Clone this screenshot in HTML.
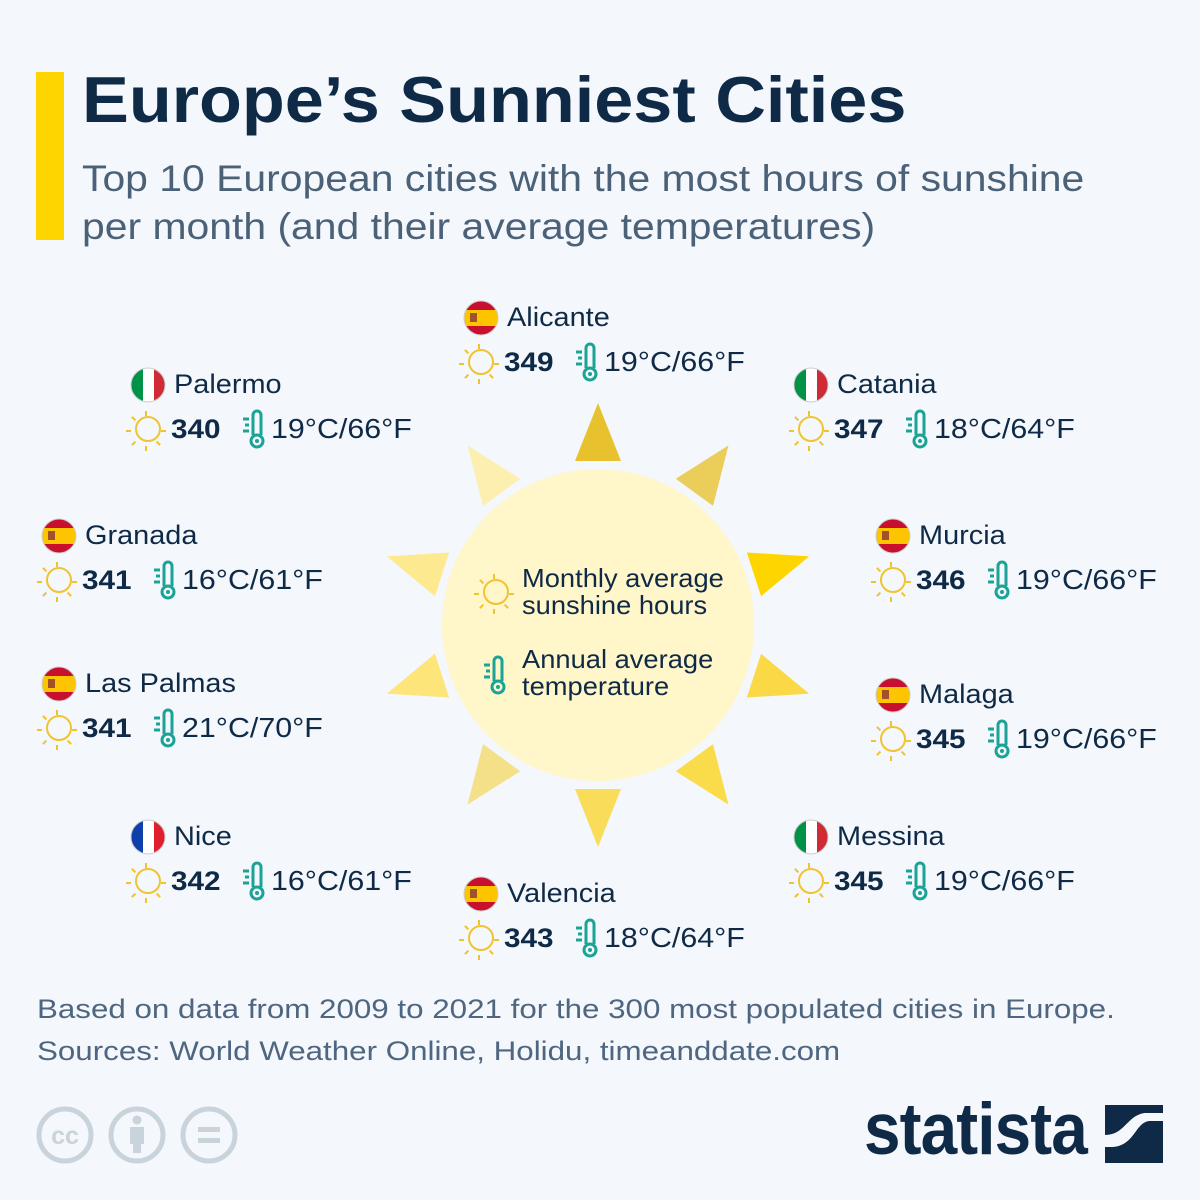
<!DOCTYPE html>
<html><head><meta charset="utf-8"><style>
body{margin:0;background:#f4f7fb;}
#root{position:relative;width:1200px;height:1200px;overflow:hidden;background:#f4f7fb;font-family:"Liberation Sans","DejaVu Sans",sans-serif;color:#0f2a47;}
.abs{position:absolute;white-space:nowrap;transform-origin:0 0;}
.name{font-size:27px;color:#0f2a47;transform:scaleX(1.07);}
.num{font-size:27px;font-weight:bold;color:#0f2a47;transform:scaleX(1.1);}
.temp{font-size:28px;color:#0f2a47;transform:scaleX(1.085);}
</style></head><body>
<div id="root">
<div class="abs" style="left:36px;top:72px;width:28px;height:168px;background:#ffd500"></div>
<div class="abs" style="left:82px;top:62px;font-size:65px;font-weight:bold;color:#0f2a47;transform:scaleX(1.08)">Europe’s Sunniest Cities</div>
<div class="abs" style="left:82px;top:155px;font-size:37px;line-height:48px;color:#4a6178;transform:scaleX(1.105)">Top 10 European cities with the most hours of sunshine<br>per month (and their average temperatures)</div>
<svg id="sun" class="abs" style="left:0;top:0" width="1200" height="1200"></svg>
<div class="abs" style="left:522px;top:565px;font-size:26px;line-height:27px;color:#0f2a47;transform:scaleX(1.05)">Monthly average<br>sunshine hours</div>
<div class="abs" style="left:522px;top:646px;font-size:26px;line-height:27px;color:#0f2a47;transform:scaleX(1.05)">Annual average<br>temperature</div>
<div id="cities"></div>
<div class="abs" style="left:37px;top:988px;font-size:27px;line-height:42px;color:#4f6680;transform:scaleX(1.16)">Based on data from 2009 to 2021 for the 300 most populated cities in Europe.<br>Sources: World Weather Online, Holidu, timeanddate.com</div>
<svg class="abs" style="left:30px;top:1100px" width="220" height="70">
<g fill="none" stroke="#c9d3dc" stroke-width="5"><circle cx="35" cy="35" r="26"/><circle cx="107" cy="35" r="26"/><circle cx="179" cy="35" r="26"/></g>
<text x="35" y="44" text-anchor="middle" font-size="25" font-weight="bold" fill="#c9d3dc" font-family="Liberation Sans">cc</text>
<circle cx="107" cy="20" r="4.5" fill="#c9d3dc"/><rect x="100" y="27" width="14" height="17" fill="#c9d3dc"/><rect x="103" y="40" width="8" height="13" fill="#c9d3dc"/>
<rect x="168" y="27" width="22" height="5" fill="#c9d3dc"/><rect x="168" y="38" width="22" height="5" fill="#c9d3dc"/>
</svg>
<div class="abs" style="left:864px;top:1088px;font-size:73px;font-weight:bold;color:#0f2a47;letter-spacing:-1px;transform:scaleX(0.9)">statista</div>
<svg class="abs" style="left:1105px;top:1105px" width="58" height="58">
<rect width="58" height="58" fill="#0f2a47"/>
<path d="M0 30 C20 30 22 10 40 8 L58 8 L58 16 L44 16 C30 18 30 40 8 42 L0 42Z" fill="#f4f7fb"/>
</svg>
</div>
<script>
const cities=["Alicante","Palermo","Catania","Granada","Murcia","Las Palmas","Malaga","Nice","Messina","Valencia"];
const countries=["es","it","it","es","es","es","es","fr","it","es"];
const sunshine=[349,340,347,341,346,341,345,342,345,343];
const tempC=[19,19,18,16,19,21,19,16,19,18];
const tempF=[66,66,64,61,66,70,66,61,66,64];
const layout=[[464,318],[131,385],[794,385],[42,536],[876,536],[42,684],[876,695],[131,837],[794,837],[464,894]];
const rayColors=["#e8c22e","#ebcd5a","#ffd500","#fbd946","#fadc4a","#f8dc5a","#f5e08a","#fde57a","#fde98f","#fdefb0"];
const NS="http://www.w3.org/2000/svg";
const sun=document.getElementById('sun');
const cx=598,cy=625;
for(let i=0;i<10;i++){
  const a=i*36*Math.PI/180, s=Math.sin(a), c=-Math.cos(a);
  const px=-c, py=s;
  const bx=cx+s*164, by=cy+c*164, tx=cx+s*222, ty=cy+c*222;
  const p=document.createElementNS(NS,'polygon');
  p.setAttribute('points',`${bx+px*23},${by+py*23} ${bx-px*23},${by-py*23} ${tx},${ty}`);
  p.setAttribute('fill',rayColors[i]);
  
  
  sun.appendChild(p);
}
const circ=document.createElementNS(NS,'circle');
circ.setAttribute('cx',cx);circ.setAttribute('cy',cy);circ.setAttribute('r',156);circ.setAttribute('fill','#fff6c9');


sun.appendChild(circ);
function sunIcon(x,y){
  let r='';
  for(let k=0;k<8;k++){if(k==1)continue;const a=k*45*Math.PI/180;
    r+=`<line x1="${x+Math.sin(a)*15}" y1="${y-Math.cos(a)*15}" x2="${x+Math.sin(a)*20}" y2="${y-Math.cos(a)*20}"/>`;}
  return `<g stroke="#f0c430" stroke-width="2" fill="none"><circle cx="${x+2}" cy="${y-2}" r="12"/>${r}</g>`;
}
function thermo(x,y){
  return `<g stroke="#1aa396" stroke-width="3" fill="none"><path d="M${x+4} ${y+6} V${y-14} a4 4 0 0 1 8 0 V${y+6}"/><circle cx="${x+8}" cy="${y+12}" r="6"/><line x1="${x-6}" y1="${y-10}" x2="${x}" y2="${y-10}"/><line x1="${x-4}" y1="${y-4}" x2="${x}" y2="${y-4}"/><line x1="${x-6}" y1="${y+2}" x2="${x}" y2="${y+2}"/></g><circle cx="${x+8}" cy="${y+12}" r="2" fill="#1aa396"/>`;
}
function flag(x,y,c){
  let f;
  if(c=='es') f=`<rect x="${x-17}" y="${y-17}" width="34" height="34" fill="#c8102e"/><rect x="${x-17}" y="${y-8}" width="34" height="16" fill="#ffc400"/><rect x="${x-11}" y="${y-5}" width="7" height="9" fill="#a0522d"/>`;
  else if(c=='it') f=`<rect x="${x-17}" y="${y-17}" width="12" height="34" fill="#009246"/><rect x="${x-5}" y="${y-17}" width="11" height="34" fill="#fff"/><rect x="${x+6}" y="${y-17}" width="11" height="34" fill="#ce2b37"/>`;
  else f=`<rect x="${x-17}" y="${y-17}" width="12" height="34" fill="#0f3fa8"/><rect x="${x-5}" y="${y-17}" width="11" height="34" fill="#fff"/><rect x="${x+6}" y="${y-17}" width="11" height="34" fill="#e01e2e"/>`;
  return `<clipPath id="cl${x}${y}"><circle cx="${x}" cy="${y}" r="17"/></clipPath><g clip-path="url(#cl${x}${y})">${f}</g><circle cx="${x}" cy="${y}" r="17" fill="none" stroke="#ccc" stroke-width="1"/>`;
}
sun.insertAdjacentHTML('beforeend',sunIcon(494,594)+thermo(490,675));
const root=document.getElementById('cities');
cities.forEach((n,i)=>{
  const [x,y]=layout[i];
  const g=document.createElementNS(NS,'g');
  
  
  g.innerHTML=flag(x+17,y,countries[i])+sunIcon(x+15,y+46)+thermo(x+118,y+44);
  sun.appendChild(g);
  const nm=document.createElement('div');
  nm.className='abs name';nm.style.left=(x+43)+'px';nm.style.top=(y-16)+'px';nm.textContent=n;
  
  
  root.appendChild(nm);
  const v=document.createElement('div');
  v.className='abs num';v.style.left=(x+40)+'px';v.style.top=(y+29)+'px';v.textContent=sunshine[i];
  
  
  root.appendChild(v);
  const t=document.createElement('div');
  t.className='abs temp';t.style.left=(x+140)+'px';t.style.top=(y+28)+'px';t.textContent=tempC[i]+'°C/'+tempF[i]+'°F';
  
  
  root.appendChild(t);
});
</script>
</body></html>
